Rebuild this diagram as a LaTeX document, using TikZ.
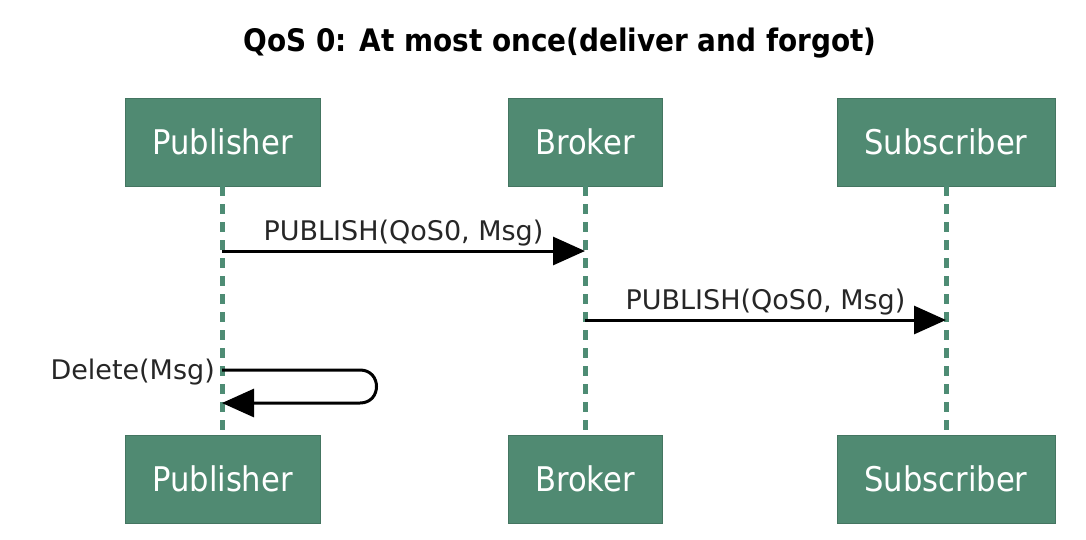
\documentclass[tikz,border=0pt]{standalone}
\usepackage{fontspec}
\setmainfont{DejaVu Sans}
\newfontfamily\boxfont{DejaVu Sans}[FakeStretch=0.9]
\newfontfamily\titlefont{DejaVu Sans}[FakeStretch=0.9]
\usetikzlibrary{arrows.meta}
\definecolor{actorgreen}{HTML}{508A72}
\definecolor{lifegreen}{HTML}{4E8C74}
\begin{document}
\begin{tikzpicture}[x=1pt,y=-1pt,
  actor/.style={fill=actorgreen,draw=actorgreen!85!black,line width=0.6pt,minimum height=88pt,inner sep=0pt,
     text=white,font=\boxfont\fontsize{34}{36}\selectfont},
  lifeline/.style={draw=lifegreen,line width=5pt,dash pattern=on 10pt off 8pt},
  msg/.style={draw=black,line width=3pt,-{Triangle[length=32pt,width=28pt]}},
  msglabel/.style={font=\fontsize{27}{30}\selectfont,inner sep=0pt,text=black!85}
]
\useasboundingbox (0,0) rectangle (1086,539);
\node[font=\titlefont\bfseries\fontsize{31}{36}\selectfont] (title) at (560,43) {QoS 0: At most once(deliver and forgot)};

\node[actor,minimum width=195pt] (pubT) at (222.5,142) {Publisher};
\node[actor,minimum width=154pt] (brkT) at (585,142) {Broker};
\node[actor,minimum width=218pt] (subT) at (946,142) {Subscriber};
\node[actor,minimum width=195pt] (pubB) at (222.5,479) {Publisher};
\node[actor,minimum width=154pt] (brkB) at (585,479) {Broker};
\node[actor,minimum width=218pt] (subB) at (946,479) {Subscriber};

\draw[lifeline] (pubT.south) -- (pubB.north);
\draw[lifeline] (brkT.south) -- (brkB.north);
\draw[lifeline] (subT.south) -- (subB.north);

\coordinate (p1) at (222,251);
\coordinate (b1) at (585,251);
\coordinate (b2) at (585,320);
\coordinate (s2) at (946,320);
\coordinate (p3) at (222,370);
\coordinate (p4) at (222,403);
\coordinate (l1) at (360,370);
\coordinate (l2) at (360,403);

\draw[msg] (p1) -- (b1) node[msglabel,midway,above=3pt] (m1) {PUBLISH(QoS0, Msg)};
\draw[msg] (b2) -- (s2) node[msglabel,midway,above=3pt] (m2) {PUBLISH(QoS0, Msg)};
\draw[msg] (p3) -- (l1) .. controls (382,370) and (382,403) .. (l2) -- (p4);
\node[msglabel,anchor=east] (del) at (215,372) {Delete(Msg)};
\end{tikzpicture}
\end{document}
